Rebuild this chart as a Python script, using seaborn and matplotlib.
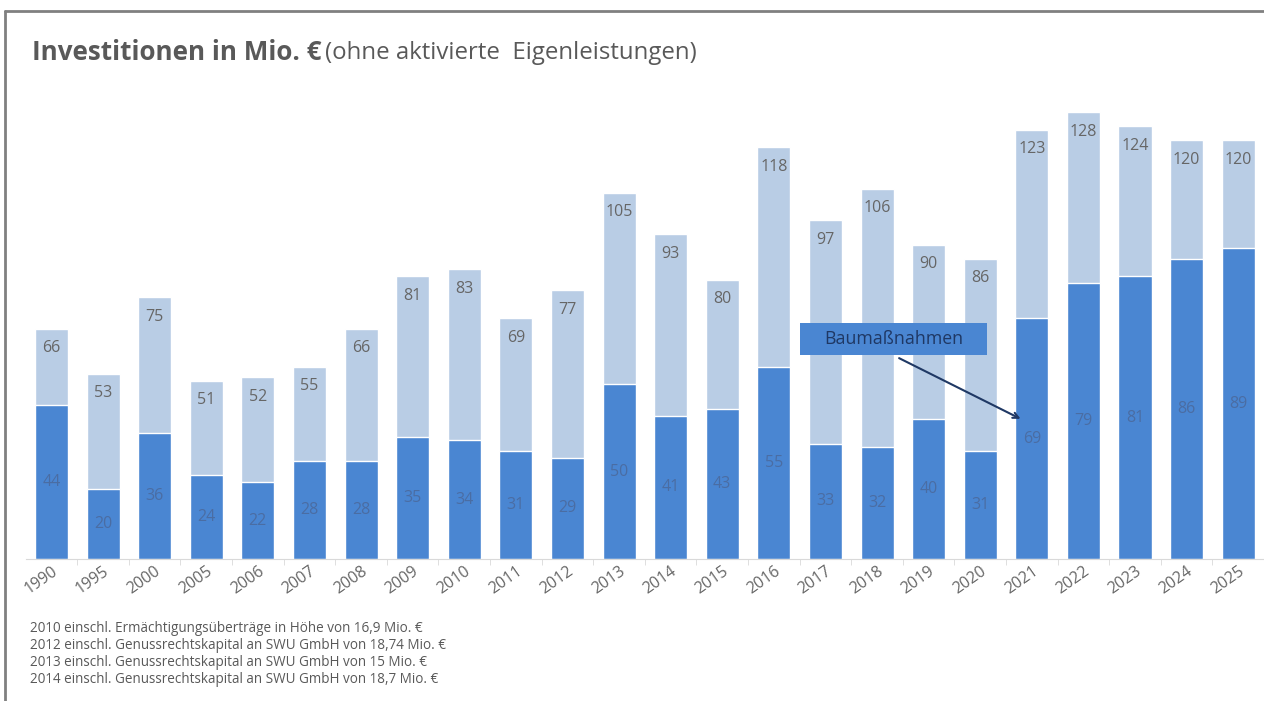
"""
Investitionen in Mio. EUR, gestapelte Balken (Gesamt / Baumassnahmen).
"""

import matplotlib
matplotlib.use('Agg')
import matplotlib.pyplot as plt
import matplotlib.patches
import seaborn as sns

# Daten
years = ['1990', '1995', '2000', '2005', '2006', '2007', '2008', '2009',
         '2010', '2011', '2012', '2013', '2014', '2015', '2016', '2017',
         '2018', '2019', '2020', '2021', '2022', '2023', '2024', '2025']
total = [66, 53, 75, 51, 52, 55, 66, 81, 83, 69, 77, 105, 93, 80, 118, 97,
         106, 90, 86, 123, 128, 124, 120, 120]
bau = [44, 20, 36, 24, 22, 28, 28, 35, 34, 31, 29, 50, 41, 43, 55, 33, 32,
       40, 31, 69, 79, 81, 86, 89]
footnotes = [
    '2010 einschl. Ermächtigungsüberträge in Höhe von 16,9 Mio. €',
    '2012 einschl. Genussrechtskapital an SWU GmbH von 18,74 Mio. €',
    '2013 einschl. Genussrechtskapital an SWU GmbH von 15 Mio. €',
    '2014 einschl. Genussrechtskapital an SWU GmbH von 18,7 Mio. €',
]

# Farben
DARK = '#4a86d2'
LIGHT = '#b9cde5'
GREY = '#595959'
NAVY = '#1f3864'

sns.set_style('white')
plt.rcParams['font.family'] = ['Open Sans', 'DejaVu Sans']

fig = plt.figure(figsize=(12.64, 7.01), dpi=100)
ax = fig.add_axes([0.0203, 0.2026, 0.9797, 0.697])

sns.barplot(x=years, y=total, color=LIGHT, saturation=1, width=0.64, ax=ax)
sns.barplot(x=years, y=bau, color=DARK, saturation=1, width=0.64, ax=ax)

# Beschriftungen
for i, t in enumerate(total):
    ax.annotate(str(t), (i, t), xytext=(0, -14), textcoords='offset points',
                ha='center', va='center', fontsize=11.5, color='#666666')
ax.bar_label(ax.containers[1], label_type='center', fontsize=11.5,
             color='#4a6da3')

ax.set_xlim(-0.5, len(years) - 0.5)
ax.set_ylim(0, 140)
ax.set_yticks([])
ax.set_ylabel('')
for s in ['left', 'right', 'top']:
    ax.spines[s].set_visible(False)
ax.spines['bottom'].set_color('#d9d9d9')
ax.set_xticks([i + 0.5 for i in range(len(years) - 1)], minor=True)
ax.tick_params(axis='x', which='minor', length=4, color='#d9d9d9',
               bottom=True)
ax.tick_params(axis='x', which='major', length=0, pad=3)
plt.setp(ax.get_xticklabels(), rotation=35, ha='right', va='top',
         rotation_mode='anchor', fontsize=11.5, color='#666666')

# Baumassnahmen-Hinweis
ax.add_patch(matplotlib.patches.Rectangle((14.5, 58.5), 3.64, 9.1,
                                          facecolor=DARK, edgecolor='none',
                                          zorder=5))
ax.text(16.32, 63.05, 'Baumaßnahmen', ha='center', va='center',
        fontsize=12.8, color=NAVY, zorder=6)
ax.annotate('', xy=(18.83, 39.8), xytext=(16.38, 57.9),
            arrowprops=dict(arrowstyle='->', color=NAVY, lw=1.5), zorder=6)

# Titel
fig.text(0.025, 0.925, 'Investitionen in Mio. €', fontsize=18.7,
         fontweight='bold', color=GREY, va='center')
fig.text(0.2575, 0.925, '(ohne aktivierte  Eigenleistungen)', fontsize=17.3,
         color=GREY, va='center')

# Fussnoten
for k, line in enumerate(footnotes):
    fig.text(0.024, 0.104 - k * 0.0245, line, fontsize=9.75, color=GREY,
             va='center')

# Rahmen
fig.add_artist(plt.Line2D([0.004, 1.0], [0.984, 0.984], color='#808080',
                          lw=2, transform=fig.transFigure))
fig.add_artist(plt.Line2D([0.004, 0.004], [0.0, 0.984], color='#808080',
                          lw=2, transform=fig.transFigure))

fig.savefig('out.png', dpi=100)
